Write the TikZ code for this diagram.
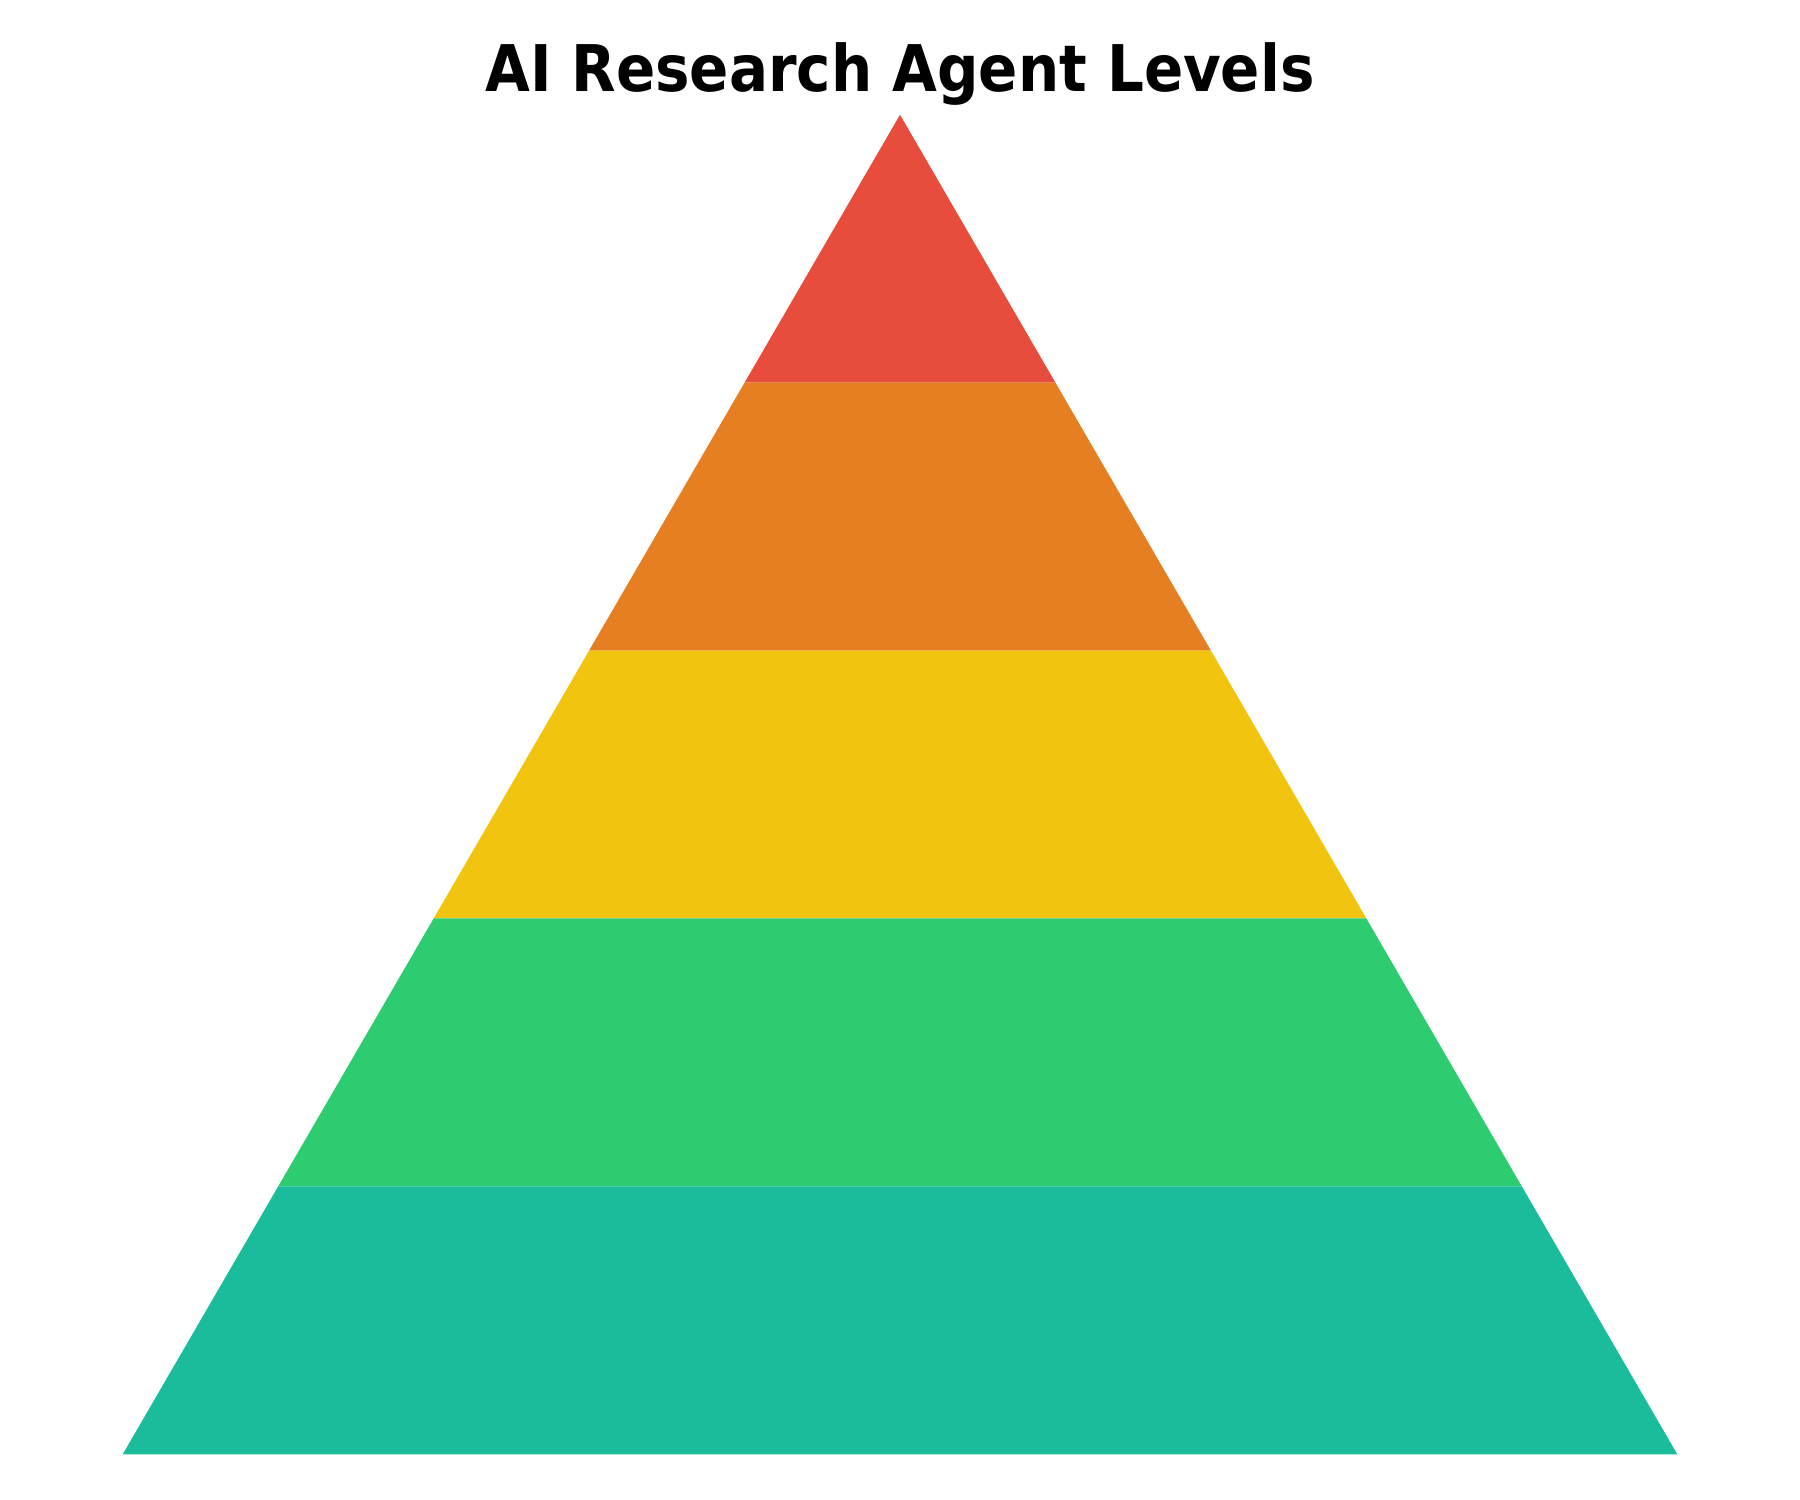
\documentclass[tikz,border=0pt]{standalone}
\usepackage{fontspec}
\setmainfont{DejaVu Sans}
\newfontfamily\titlefont{DejaVu Sans Condensed}
\usetikzlibrary{calc}
\definecolor{lvlred}{HTML}{E74C3C}
\definecolor{lvlorange}{HTML}{E67E22}
\definecolor{lvlyellow}{HTML}{F1C40F}
\definecolor{lvlgreen}{HTML}{2ECC71}
\definecolor{lvlteal}{HTML}{1ABC9C}

\begin{document}
\begin{tikzpicture}[x=0.01cm, y=-0.01cm]
        \useasboundingbox (0,0) rectangle (1800,1500);
        % Eckpunkte der Pyramide
        \coordinate (Apex) at (900,114.8);
        \coordinate (BotL) at (122.7,1454.3);
        \coordinate (BotR) at (1677.3,1454.3);
        % Stufen von oben nach unten
        \foreach \col [count=\i from 0] in {lvlred,lvlorange,lvlyellow,lvlgreen,lvlteal} {
            \fill[\col] ($(Apex)!{\i/5}!(BotL)$) -- ($(Apex)!{\i/5}!(BotR)$)
                -- ($(Apex)!{(\i+1)/5}!(BotR)$) -- ($(Apex)!{(\i+1)/5}!(BotL)$) -- cycle;
        }
        % Titel
        \node[anchor=base, font=\titlefont\bfseries\fontsize{18.3}{20}\selectfont] (Title) at (900,92) {AI Research Agent Levels};
\end{tikzpicture}
\end{document}
